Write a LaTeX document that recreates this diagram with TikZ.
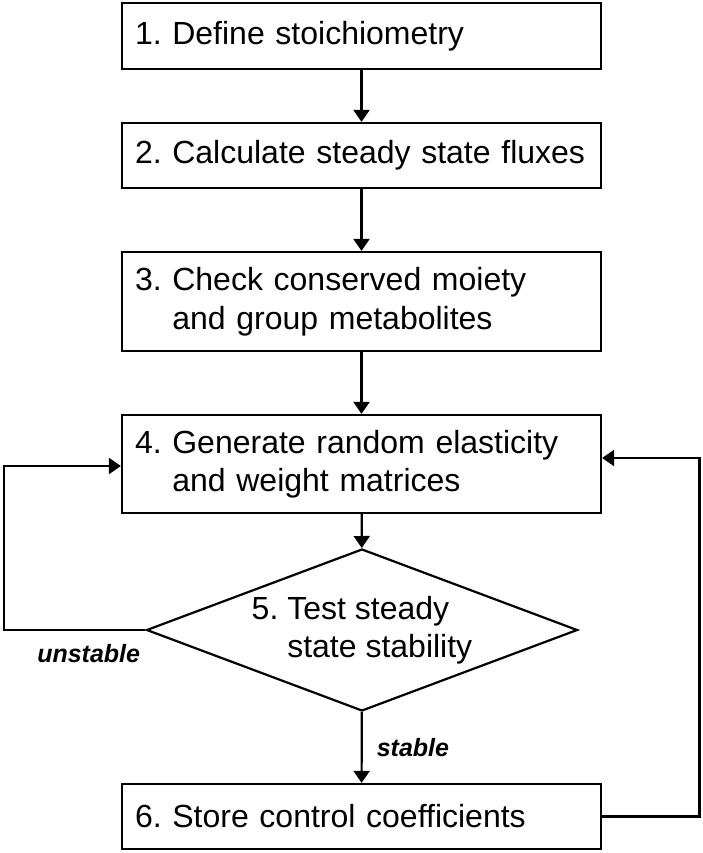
\documentclass[tikz,border=0pt]{standalone}
\usepackage{fontspec}
\setmainfont{Liberation Sans}
\usetikzlibrary{shapes.geometric,arrows.meta}
\frenchspacing

\tikzset{
  stage/.style={draw, rectangle, line width=2.2pt, inner xsep=13pt, inner ysep=0pt,
    text width=453pt, align=left, font=\fontsize{32}{38.5}\selectfont},
  decision/.style={draw, diamond, aspect=2.66, line width=2.2pt, inner sep=0pt,
    minimum width=431pt, minimum height=162pt, align=left, font=\fontsize{32}{38.5}\selectfont},
  flow/.style={line width=2.2pt, -{Triangle[width=16pt,length=12pt]}},
  lbl/.style={inner sep=0pt, font=\fontsize{25}{30}\selectfont\bfseries\itshape}
}

\begin{document}
\begin{tikzpicture}[x=1pt,y=-1pt]
   \useasboundingbox (0,0) rectangle (702,853);

   \node[stage, minimum height=66pt] (box1) at (361.5,36) {1. Define stoichiometry};
   \node[stage, minimum height=65pt] (box2) at (361.5,155.5) {\mbox{2. Calculate steady state fluxes}};
   \node[stage, minimum height=99pt] (box3) at (361.5,301.5)
      {3. Check conserved moiety\\\phantom{3. }and group metabolites};
   \node[stage, minimum height=98pt] (box4) at (361.5,464)
      {4. Generate random elasticity\\\phantom{4. }and weight matrices};
   \node[decision] (test) at (362,630) {5. Test steady\\\phantom{5. }state stability};
   \node[stage, minimum height=65pt] (box6) at (361.5,816.5) {6. Store control coefficients};

   \coordinate (lft) at (3.6,630);
   \coordinate (rgt) at (699.5,816.5);

   \draw[flow] (box1) -- (box2);
   \draw[flow] (box2) -- (box3);
   \draw[flow] (box3) -- (box4);
   \draw[flow] (box4) -- (test);
   \draw[flow] (test) -- node[lbl, right=14pt] {stable} (box6);

   % loops back to step 4
   \draw[flow] (test.west) -- node[lbl, pos=0.4, below=13pt] {unstable} (lft)
      |- ([yshift=-2pt]box4.west);
   \draw[flow] (box6.east) -- (rgt) |- ([yshift=6pt]box4.east);
 \end{tikzpicture}
\end{document}
